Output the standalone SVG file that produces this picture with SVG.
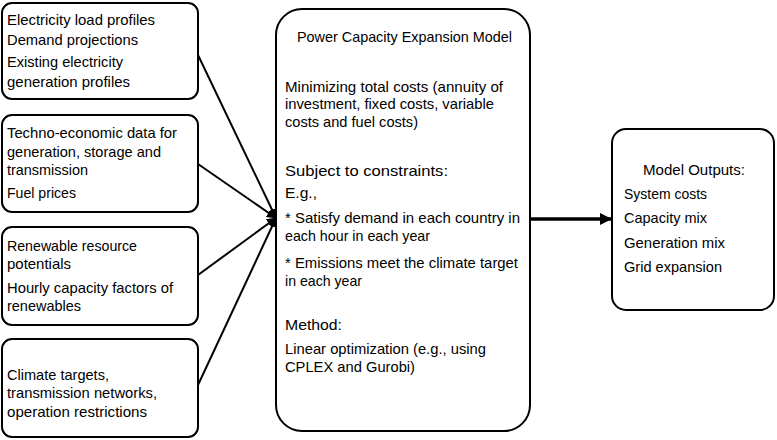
<svg xmlns="http://www.w3.org/2000/svg" width="777" height="440" viewBox="0 0 777 440">
<defs>
<style>
.box{fill:#fff;stroke:#000;stroke-width:2}
text{font-family:"Liberation Sans",Arial,sans-serif;font-size:15px;fill:#000}
.ln{stroke:#000;stroke-width:2;fill:none}
.thick{stroke:#000;stroke-width:3.5;fill:none}
</style>
<marker id="ah" markerWidth="10" markerHeight="10" refX="9" refY="5" orient="auto" markerUnits="userSpaceOnUse">
<path d="M0,0 L10,5 L0,10 z" fill="#000"/>
</marker>
<marker id="ah2" markerWidth="12" markerHeight="12" refX="11" refY="6" orient="auto" markerUnits="userSpaceOnUse">
<path d="M0,0 L12,6 L0,12 z" fill="#000"/>
</marker>
</defs>
<rect width="777" height="440" fill="#fff"/>
<g id="connectors">
<line class="ln" x1="198" y1="55" x2="276" y2="218" marker-end="url(#ah)"/>
<line class="ln" x1="198" y1="164" x2="276" y2="218" marker-end="url(#ah)"/>
<line class="ln" x1="198" y1="275" x2="276" y2="218" marker-end="url(#ah)"/>
<line class="ln" x1="198" y1="385" x2="276" y2="218" marker-end="url(#ah)"/>
<line class="thick" x1="531" y1="219" x2="611" y2="219" marker-end="url(#ah2)"/>
</g>
<g id="n1">
<rect class="box" x="2" y="3" width="196" height="96" rx="10"/>
<text x="7" y="25" textLength="148" lengthAdjust="spacingAndGlyphs">Electricity load profiles</text>
<text x="7" y="45" textLength="131" lengthAdjust="spacingAndGlyphs">Demand projections</text>
<text x="7" y="67" textLength="116" lengthAdjust="spacingAndGlyphs">Existing electricity</text>
<text x="7" y="87" textLength="123" lengthAdjust="spacingAndGlyphs">generation profiles</text>
</g>
<g id="n2">
<rect class="box" x="2" y="115" width="196" height="97" rx="10"/>
<text x="7" y="138" textLength="170" lengthAdjust="spacingAndGlyphs">Techno-economic data for</text>
<text x="7" y="157" textLength="154" lengthAdjust="spacingAndGlyphs">generation, storage and</text>
<text x="7" y="175" textLength="81" lengthAdjust="spacingAndGlyphs">transmission</text>
<text x="7" y="198" textLength="69" lengthAdjust="spacingAndGlyphs">Fuel prices</text>
</g>
<g id="n3">
<rect class="box" x="2" y="227" width="196" height="98" rx="10"/>
<text x="7" y="251" textLength="130" lengthAdjust="spacingAndGlyphs">Renewable resource</text>
<text x="7" y="269" textLength="64" lengthAdjust="spacingAndGlyphs">potentials</text>
<text x="7" y="293" textLength="166" lengthAdjust="spacingAndGlyphs">Hourly capacity factors of</text>
<text x="7" y="311" textLength="74" lengthAdjust="spacingAndGlyphs">renewables</text>
</g>
<g id="n4">
<rect class="box" x="2" y="339" width="196" height="98" rx="10"/>
<text x="7" y="380" textLength="102" lengthAdjust="spacingAndGlyphs">Climate targets,</text>
<text x="7" y="398" textLength="150" lengthAdjust="spacingAndGlyphs">transmission networks,</text>
<text x="7" y="417" textLength="140" lengthAdjust="spacingAndGlyphs">operation restrictions</text>
</g>
<g id="n5">
<rect class="box" x="276" y="9" width="254" height="422" rx="26"/>
<text x="297" y="42" textLength="215" lengthAdjust="spacingAndGlyphs">Power Capacity Expansion Model</text>
<text x="285" y="92" textLength="218" lengthAdjust="spacingAndGlyphs">Minimizing total costs (annuity of</text>
<text x="285" y="109" textLength="209" lengthAdjust="spacingAndGlyphs">investment, fixed costs, variable</text>
<text x="285" y="127" textLength="133" lengthAdjust="spacingAndGlyphs">costs and fuel costs)</text>
<text x="285" y="176" textLength="163" lengthAdjust="spacingAndGlyphs">Subject to constraints:</text>
<text x="285" y="198" textLength="32" lengthAdjust="spacingAndGlyphs">E.g.,</text>
<text x="285" y="223" textLength="235" lengthAdjust="spacingAndGlyphs">* Satisfy demand in each country in</text>
<text x="285" y="241" textLength="145" lengthAdjust="spacingAndGlyphs">each hour in each year</text>
<text x="285" y="268" textLength="233" lengthAdjust="spacingAndGlyphs">* Emissions meet the climate target</text>
<text x="285" y="286" textLength="77" lengthAdjust="spacingAndGlyphs">in each year</text>
<text x="285" y="330" textLength="57" lengthAdjust="spacingAndGlyphs">Method:</text>
<text x="285" y="354" textLength="201" lengthAdjust="spacingAndGlyphs">Linear optimization (e.g., using</text>
<text x="285" y="372" textLength="130" lengthAdjust="spacingAndGlyphs">CPLEX and Gurobi)</text>
</g>
<g id="n6">
<rect class="box" x="612" y="129" width="162" height="181" rx="14"/>
<text x="643" y="175" textLength="102" lengthAdjust="spacingAndGlyphs">Model Outputs:</text>
<text x="624" y="199" textLength="83" lengthAdjust="spacingAndGlyphs">System costs</text>
<text x="624" y="223" textLength="83" lengthAdjust="spacingAndGlyphs">Capacity mix</text>
<text x="624" y="248" textLength="101" lengthAdjust="spacingAndGlyphs">Generation mix</text>
<text x="624" y="272" textLength="98" lengthAdjust="spacingAndGlyphs">Grid expansion</text>
</g>
</svg>
